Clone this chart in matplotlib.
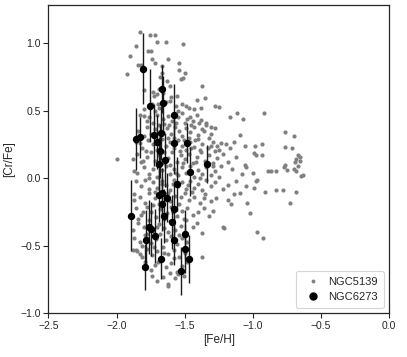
import matplotlib
matplotlib.use("Agg")
import matplotlib.pyplot as plt
from matplotlib.lines import Line2D

# NGC5139 (gray) [Fe/H], [Cr/Fe] pairs
ngc5139_pts = [
    (-1.83, 1.08), (-1.755, 1.06), (-1.72, 1.06), (-1.70, 1.01), (-1.64, 1.01), (-1.51, 0.99),
    (-1.857, 0.98), (-1.767, 0.94), (-1.745, 0.94), (-1.90, 0.90),
    (-1.84, 0.84), (-1.82, 0.84), (-1.74, 0.88), (-1.715, 0.85), (-1.62, 0.88), (-1.54, 0.85),
    (-1.67, 0.83), (-1.54, 0.80),
    (-1.92, 0.77), (-1.50, 0.78), (-1.51, 0.74), (-1.53, 0.73), (-1.68, 0.75), (-1.63, 0.72), (-1.67, 0.78),
    (-1.37, 0.68), (-1.61, 0.68), (-1.73, 0.64), (-1.725, 0.61), (-1.80, 0.65), (-1.60, 0.60),
    (-1.56, 0.61), (-1.66, 0.63), (-1.69, 0.66), (-1.70, 0.62),
    (-1.41, 0.58), (-1.35, 0.59), (-1.28, 0.53), (-1.25, 0.525), (-1.47, 0.52), (-1.43, 0.51),
    (-1.38, 0.52), (-1.61, 0.57), (-1.64, 0.56), (-1.74, 0.55), (-1.52, 0.55), (-1.69, 0.52),
    (-1.72, 0.50), (-1.55, 0.50), (-1.49, 0.53), (-1.80, 0.51),
    (-1.17, 0.45), (-1.115, 0.48), (-1.075, 0.44), (-0.917, 0.48), (-1.83, 0.47), (-1.80, 0.46),
    (-1.76, 0.45), (-1.70, 0.47), (-1.66, 0.44), (-1.62, 0.46), (-1.59, 0.42), (-1.55, 0.45),
    (-1.52, 0.48), (-1.50, 0.41), (-1.46, 0.45), (-1.44, 0.42), (-1.41, 0.47), (-1.38, 0.43),
    (-1.34, 0.41), (-1.31, 0.38),
    (-1.84, 0.35), (-1.78, 0.38), (-1.75, 0.33), (-1.72, 0.36), (-1.69, 0.39), (-1.66, 0.34),
    (-1.63, 0.37), (-1.60, 0.33), (-1.57, 0.38), (-1.54, 0.35), (-1.52, 0.31), (-1.49, 0.37),
    (-1.46, 0.34), (-1.43, 0.38), (-1.40, 0.32), (-1.37, 0.36), (-1.34, 0.39), (-1.31, 0.33),
    (-1.28, 0.37), (-1.095, 0.32), (-0.765, 0.34), (-0.70, 0.31), (-1.58, 0.30), (-1.47, 0.30),
    (-1.86, 0.27), (-1.81, 0.22), (-1.77, 0.28), (-1.73, 0.25), (-1.70, 0.21), (-1.67, 0.29),
    (-1.64, 0.24), (-1.61, 0.27), (-1.58, 0.22), (-1.55, 0.28), (-1.52, 0.24), (-1.49, 0.21),
    (-1.46, 0.27), (-1.43, 0.23), (-1.40, 0.29), (-1.37, 0.25), (-1.33, 0.22), (-1.29, 0.27),
    (-1.26, 0.24), (-1.23, 0.26), (-1.20, 0.25), (-1.17, 0.22), (-1.14, 0.27), (-1.06, 0.24),
    (-0.985, 0.235), (-0.936, 0.255), (-0.765, 0.23), (-0.71, 0.22), (-1.28, 0.20),
    (-2.00, 0.14), (-1.88, 0.14), (-1.85, 0.18), (-1.82, 0.12), (-1.78, 0.16), (-1.75, 0.19),
    (-1.72, 0.13), (-1.69, 0.17), (-1.65, 0.11), (-1.62, 0.15), (-1.59, 0.19), (-1.56, 0.12),
    (-1.53, 0.17), (-1.50, 0.14), (-1.47, 0.18), (-1.44, 0.11), (-1.41, 0.16), (-1.38, 0.19),
    (-1.35, 0.13), (-1.32, 0.17), (-1.29, 0.11), (-1.26, 0.15), (-1.22, 0.18), (-1.18, 0.12),
    (-1.12, 0.16), (-1.055, 0.10), (-0.99, 0.185), (-0.98, 0.17), (-0.93, 0.17), (-0.765, 0.10),
    (-0.68, 0.14), (-0.67, 0.17), (-0.655, 0.16), (-0.69, 0.12), (-0.655, 0.13),
    (-1.87, 0.05), (-1.85, 0.04), (-1.80, 0.08), (-1.76, 0.03), (-1.73, 0.07), (-1.70, 0.01),
    (-1.67, 0.06), (-1.64, 0.09), (-1.61, 0.03), (-1.58, 0.07), (-1.55, 0.02), (-1.52, 0.08),
    (-1.49, 0.04), (-1.46, 0.09), (-1.43, 0.01), (-1.40, 0.06), (-1.37, 0.03), (-1.34, 0.08),
    (-1.31, 0.02), (-1.28, 0.05), (-1.25, 0.01), (-1.15, 0.07), (-1.08, 0.03), (-1.05, 0.08),
    (-0.89, 0.05), (-0.865, 0.05), (-0.83, 0.05), (-0.77, 0.08), (-0.75, 0.06), (-0.70, 0.07),
    (-0.68, 0.05), (-0.63, 0.025), (-0.645, 0.015), (-0.67, 0.09), (-1.00, 0.04),
    (-1.86, -0.02), (-1.82, -0.06), (-1.79, -0.01), (-1.76, -0.08), (-1.73, -0.03), (-1.70, -0.07),
    (-1.67, -0.02), (-1.64, -0.05), (-1.61, -0.09), (-1.58, -0.01), (-1.55, -0.06), (-1.52, -0.03),
    (-1.49, -0.08), (-1.46, -0.02), (-1.43, -0.07), (-1.40, -0.04), (-1.37, -0.09), (-1.34, -0.01),
    (-1.31, -0.06), (-1.28, -0.03), (-1.22, -0.08), (-1.18, -0.05), (-1.12, -0.02), (-1.05, -0.06),
    (-0.995, -0.07), (-0.98, -0.02), (-0.83, -0.085), (-0.78, -0.09), (-0.68, -0.10), (-0.97, -0.01),
    (-1.87, -0.12), (-1.87, -0.16), (-1.83, -0.14), (-1.79, -0.18), (-1.76, -0.11), (-1.72, -0.15),
    (-1.69, -0.19), (-1.64, -0.12), (-1.61, -0.17), (-1.57, -0.13), (-1.54, -0.19), (-1.50, -0.11),
    (-1.47, -0.16), (-1.43, -0.14), (-1.39, -0.18), (-1.35, -0.12), (-1.31, -0.17), (-1.27, -0.15),
    (-1.185, -0.16), (-1.135, -0.12), (-1.095, -0.11), (-0.91, -0.105), (-0.73, -0.18),
    (-1.045, -0.18), (-1.16, -0.19),
    (-1.86, -0.22), (-1.82, -0.27), (-1.78, -0.21), (-1.75, -0.25), (-1.71, -0.29), (-1.68, -0.23),
    (-1.63, -0.26), (-1.60, -0.21), (-1.56, -0.28), (-1.52, -0.24), (-1.48, -0.22), (-1.44, -0.27),
    (-1.40, -0.25), (-1.36, -0.22), (-1.32, -0.28), (-1.02, -0.26), (-1.29, -0.24),
    (-1.88, -0.38), (-1.84, -0.33), (-1.80, -0.36), (-1.76, -0.31), (-1.73, -0.39), (-1.69, -0.34),
    (-1.65, -0.37), (-1.61, -0.32), (-1.57, -0.38), (-1.53, -0.35), (-1.49, -0.31), (-1.44, -0.36),
    (-1.22, -0.36), (-1.21, -0.37), (-0.97, -0.395), (-1.376, -0.405), (-1.41, -0.33),
    (-1.875, -0.44), (-1.83, -0.47), (-1.79, -0.42), (-1.75, -0.48), (-1.71, -0.45), (-1.68, -0.41),
    (-1.64, -0.46), (-1.60, -0.43), (-1.56, -0.49), (-1.52, -0.44), (-1.48, -0.47), (-0.925, -0.44),
    (-1.88, -0.53), (-1.86, -0.53), (-1.85, -0.535), (-1.83, -0.56), (-1.815, -0.58), (-1.78, -0.52),
    (-1.74, -0.57), (-1.70, -0.54), (-1.66, -0.51), (-1.62, -0.56), (-1.58, -0.53), (-1.54, -0.58),
    (-1.50, -0.55), (-1.376, -0.58),
    (-1.79, -0.62), (-1.75, -0.68), (-1.72, -0.64), (-1.68, -0.61), (-1.64, -0.66), (-1.60, -0.63),
    (-1.56, -0.69), (-1.52, -0.65), (-1.48, -0.62),
    (-1.74, -0.72), (-1.70, -0.76), (-1.66, -0.73), (-1.62, -0.78), (-1.57, -0.74), (-1.55, -0.71),
    (-1.62, -0.80),
    # additional points in the dense core
    (-1.775, 0.42), (-1.735, 0.405), (-1.655, 0.40), (-1.615, 0.395), (-1.565, 0.41),
    (-1.485, 0.44), (-1.455, 0.395), (-1.395, 0.41), (-1.355, 0.35), (-1.325, 0.30),
    (-1.425, 0.28), (-1.505, 0.285), (-1.625, 0.30), (-1.795, 0.31), (-1.825, 0.26),
    (-1.785, 0.20), (-1.655, 0.19), (-1.535, 0.20), (-1.455, 0.22), (-1.385, 0.21),
    (-1.305, 0.24), (-1.245, 0.21), (-1.805, 0.13), (-1.705, 0.10), (-1.605, 0.095),
    (-1.515, 0.11), (-1.415, 0.12), (-1.335, 0.10), (-1.235, 0.09), (-1.765, 0.00),
    (-1.665, -0.04), (-1.565, 0.04), (-1.475, -0.05), (-1.385, 0.00), (-1.295, 0.09),
    (-1.715, -0.10), (-1.625, -0.11), (-1.525, -0.14), (-1.445, -0.10), (-1.355, -0.15),
    (-1.805, -0.25), (-1.735, -0.20), (-1.655, -0.30), (-1.585, -0.25), (-1.505, -0.30),
    (-1.845, -0.30), (-1.775, -0.41), (-1.705, -0.36), (-1.625, -0.40), (-1.545, -0.42),
    (-1.815, -0.50), (-1.725, -0.51), (-1.655, -0.55), (-1.575, -0.59), (-1.695, -0.62),
    (-1.605, -0.70), (-1.505, -0.72), (-1.585, -0.04), (-1.695, 0.55), (-1.565, 0.53),
]
ngc5139_feh = [p[0] for p in ngc5139_pts]
ngc5139_crfe = [p[1] for p in ngc5139_pts]

# NGC6273 (black, with errors)
ngc6273_feh = [-1.806, -1.755, -1.667, -1.657, -1.579, -1.828, -1.855, -1.725, -1.676, -1.701,
               -1.681, -1.691, -1.645, -1.579, -1.481, -1.464, -1.337, -1.559, -1.667, -1.686,
               -1.667, -1.630, -1.581, -1.650, -1.596, -1.896, -1.762, -1.750, -1.718, -1.786,
               -1.581, -1.496, -1.496, -1.674, -1.471, -1.789, -1.527]
ngc6273_crfe = [0.81, 0.536, 0.66, 0.553, 0.469, 0.301, 0.291, 0.321, 0.333, 0.267,
                0.198, 0.104, 0.136, 0.259, 0.259, 0.047, 0.104, -0.044, -0.106, -0.123,
                -0.193, -0.143, -0.227, -0.277, -0.321, -0.277, -0.358, -0.378, -0.425, -0.459,
                -0.459, -0.415, -0.521, -0.595, -0.598, -0.659, -0.686]
ngc6273_err = [0.26, 0.27, 0.18, 0.20, 0.23, 0.15, 0.23, 0.23, 0.20, 0.20,
               0.20, 0.20, 0.20, 0.23, 0.15, 0.18, 0.14, 0.20, 0.18, 0.20,
               0.20, 0.18, 0.20, 0.20, 0.20, 0.26, 0.20, 0.20, 0.20, 0.22,
               0.18, 0.18, 0.18, 0.15, 0.18, 0.17, 0.18]

plt.rcParams['font.family'] = ['Liberation Sans', 'DejaVu Sans']

fig = plt.figure(figsize=(4.07, 3.57), dpi=100)
ax = fig.add_axes([0.119, 0.122, 0.837, 0.864])

ax.scatter(ngc5139_feh, ngc5139_crfe, s=9, color='#808080', linewidths=0, zorder=2)
ax.errorbar(ngc6273_feh, ngc6273_crfe, yerr=ngc6273_err, fmt='o', color='black', ms=4.3,
            ecolor='#1a1a1a', elinewidth=1.0, capsize=0, zorder=3)

ax.set_xlim(-2.5, 0.0)
ax.set_ylim(-1.0, 1.28)
ax.set_xticks([-2.5, -2.0, -1.5, -1.0, -0.5, 0.0])
ax.set_yticks([-1.0, -0.5, 0.0, 0.5, 1.0])
ax.set_xlabel('[Fe/H]', fontsize=8.5, color='#262626', labelpad=2)
ax.set_ylabel('[Cr/Fe]', fontsize=8.5, color='#262626', labelpad=4)
ax.tick_params(direction='out', length=3.5, width=0.8, labelsize=7.5, colors='#262626', pad=2)
for sp in ax.spines.values():
    sp.set_color('#262626')
    sp.set_linewidth(0.9)

handles = [
    Line2D([], [], linestyle='none', marker='o', color='#808080', markersize=2.8, markeredgewidth=0),
    Line2D([], [], linestyle='none', marker='o', color='black', markersize=5),
]
leg = ax.legend(handles, ['NGC5139', 'NGC6273'], loc='lower right', fontsize=8, frameon=True,
                handletextpad=0.4, borderpad=0.5, labelspacing=0.5)
leg.get_frame().set_edgecolor('#cccccc')
leg.get_frame().set_linewidth(0.8)
for t in leg.get_texts():
    t.set_color('#262626')

fig.savefig('out.png', dpi=100)
